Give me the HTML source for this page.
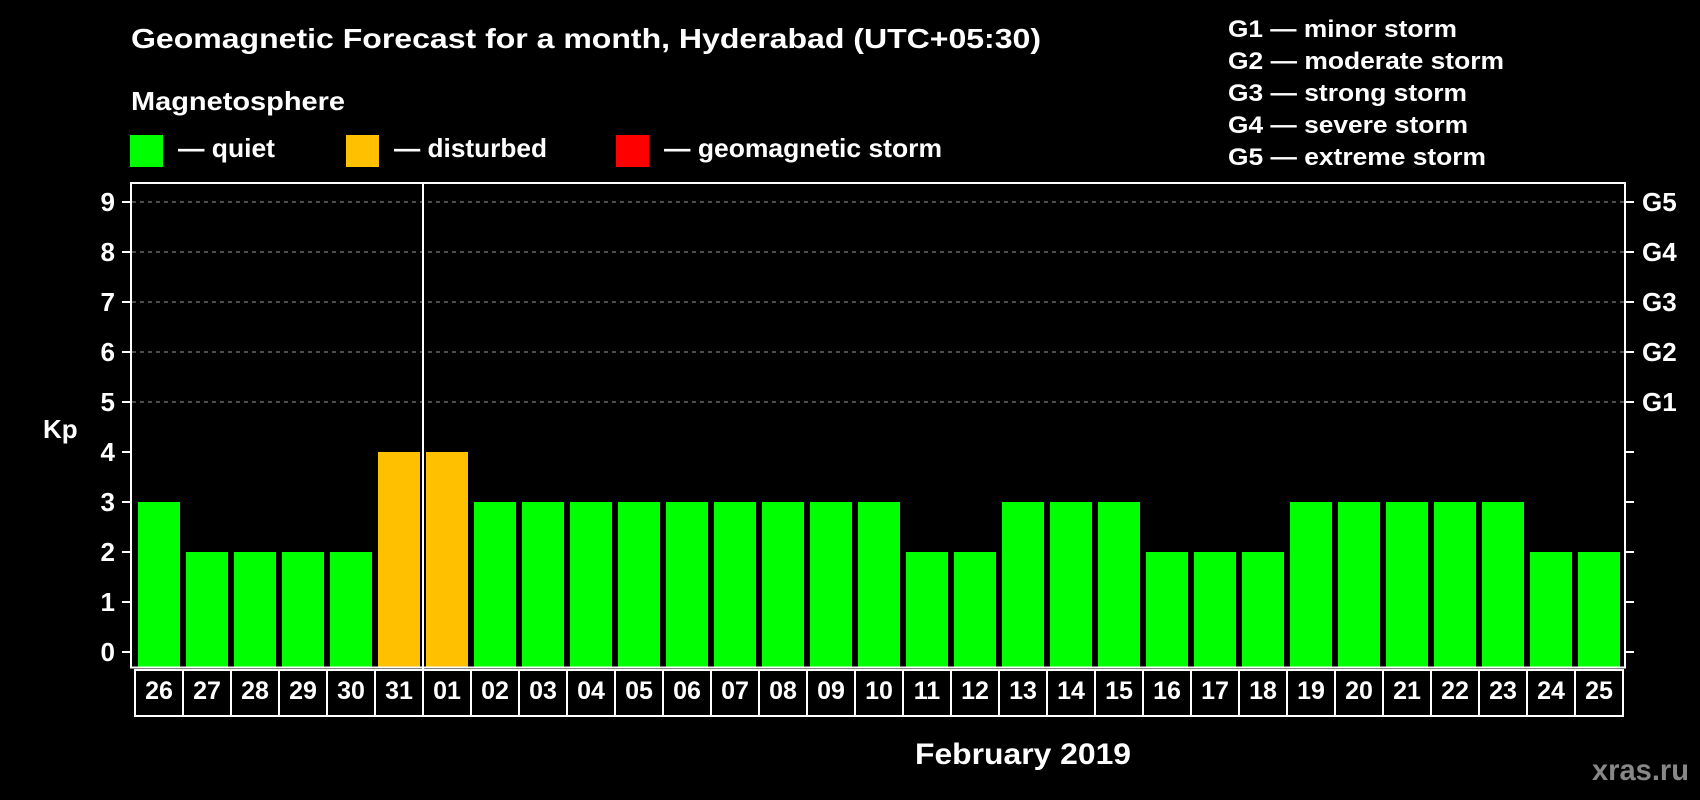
<!DOCTYPE html>
<html><head><meta charset="utf-8"><style>
html,body{margin:0;padding:0;background:#000;width:1700px;height:800px;overflow:hidden}
svg text{font-family:"Liberation Sans",Arial,sans-serif;font-weight:bold;fill:#fff}
</style></head><body>
<svg id="chart" width="1700" height="800" xmlns="http://www.w3.org/2000/svg">
<text x="131" y="48" font-size="28" textLength="910" lengthAdjust="spacingAndGlyphs">Geomagnetic Forecast for a month, Hyderabad (UTC+05:30)</text>
<text x="131" y="110" font-size="26" textLength="214" lengthAdjust="spacingAndGlyphs">Magnetosphere</text>
<rect x="130" y="135" width="33" height="32" fill="#00ff00"/>
<text x="178" y="157" font-size="26" textLength="97" lengthAdjust="spacingAndGlyphs">— quiet</text>
<rect x="346" y="135" width="33" height="32" fill="#ffc000"/>
<text x="394" y="157" font-size="26" textLength="153" lengthAdjust="spacingAndGlyphs">— disturbed</text>
<rect x="616" y="135" width="33" height="32" fill="#ff0000"/>
<text x="664" y="157" font-size="26" textLength="278" lengthAdjust="spacingAndGlyphs">— geomagnetic storm</text>
<g font-size="24">
<text x="1228" y="37" textLength="229" lengthAdjust="spacingAndGlyphs">G1 — minor storm</text>
<text x="1228" y="69" textLength="276" lengthAdjust="spacingAndGlyphs">G2 — moderate storm</text>
<text x="1228" y="101" textLength="239" lengthAdjust="spacingAndGlyphs">G3 — strong storm</text>
<text x="1228" y="133" textLength="240" lengthAdjust="spacingAndGlyphs">G4 — severe storm</text>
<text x="1228" y="165" textLength="258" lengthAdjust="spacingAndGlyphs">G5 — extreme storm</text>
</g>
<text x="43" y="438" font-size="26">Kp</text>
<g id="grid"></g>
<g id="bars"></g>
<rect x="131" y="183" width="1494" height="484.5" fill="none" stroke="#fff" stroke-width="2"/>
<g id="xaxis"></g>
<line x1="423" y1="183" x2="423" y2="716" stroke="#fff" stroke-width="2"/>
<text x="915" y="764" font-size="30" textLength="216" lengthAdjust="spacingAndGlyphs">February 2019</text>
<text x="1592" y="780" font-size="30" style="fill:#888" textLength="97" lengthAdjust="spacingAndGlyphs">xras.ru</text>
</svg>
<script>
const days = ["26","27","28","29","30","31","01","02","03","04","05","06","07","08","09","10","11","12","13","14","15","16","17","18","19","20","21","22","23","24","25"];
const kpValues = [3,2,2,2,2,4,4,3,3,3,3,3,3,3,3,3,2,2,3,3,3,2,2,2,3,3,3,3,3,2,2];
const yTicks = [0,1,2,3,4,5,6,7,8,9];
const gLabels = ["G1","G2","G3","G4","G5"];
const NS="http://www.w3.org/2000/svg";
const y = v => 652 - 50*v;
const xBox = i => 135 + 48*i;
function mk(tag, attrs, parent){const e=document.createElementNS(NS,tag);for(const k in attrs)e.setAttribute(k,attrs[k]);parent.appendChild(e);return e;}
const grid=document.getElementById('grid'), bars=document.getElementById('bars'), xa=document.getElementById('xaxis'), svg=document.getElementById('chart');
yTicks.forEach(v=>{
  if(v>=5){const g=mk('line',{x1:132,x2:1624,y1:y(v),y2:y(v),stroke:'#999','stroke-width':1,'stroke-dasharray':'4,4'},grid);
  
  }
  const lt=mk('line',{x1:122,x2:131,y1:y(v),y2:y(v),stroke:'#fff','stroke-width':2},grid);
  
  
  const rt=mk('line',{x1:1625,x2:1634,y1:y(v),y2:y(v),stroke:'#fff','stroke-width':2},grid);
  
  
  const t=mk('text',{x:115,y:y(v)+9,'font-size':26,'text-anchor':'end'},grid);
  t.textContent=v;
  
  
  if(v>=5){const gt=mk('text',{x:1642,y:y(v)+9,'font-size':26},grid);
  gt.textContent=gLabels[v-5];
  
  }
});
kpValues.forEach((v,i)=>{
  const col = v>=5?'#ff0000':(v>=4?'#ffc000':'#00ff00');
  const b=mk('rect',{x:xBox(i)+3,y:y(v),width:42,height:667-y(v),fill:col},bars);
  
  
  const r=mk('rect',{x:xBox(i),y:670,width:48,height:46,fill:'none',stroke:'#fff','stroke-width':2},xa);
  
  
  const t=mk('text',{x:xBox(i)+24,y:699,'font-size':25,'text-anchor':'middle'},xa);
  t.textContent=days[i];
  
  
});
</script>
</body></html>
